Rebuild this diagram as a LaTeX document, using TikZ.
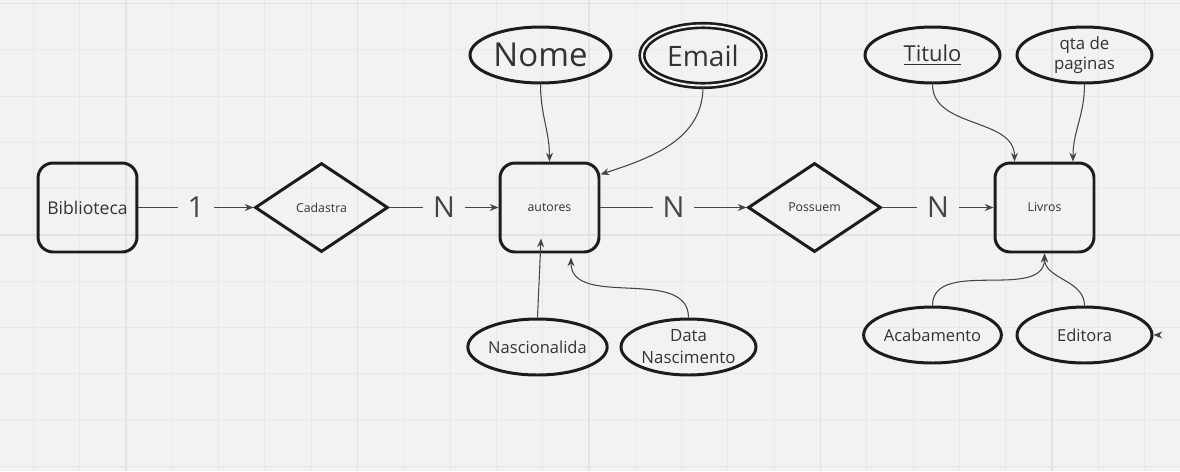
\documentclass[tikz,border=0pt]{standalone}
\usepackage{fontspec}
\setmainfont{Open Sans}
\usepackage{xcolor}
\usetikzlibrary{arrows.meta,shapes.geometric}

\definecolor{bgcol}{HTML}{F2F2F2}
\definecolor{gridfine}{HTML}{E9E9E9}
\definecolor{gridmajor}{HTML}{E2E2E2}
\definecolor{inkcol}{HTML}{1C1C1C}
\definecolor{linecol}{HTML}{454545}
\definecolor{txtcol}{HTML}{333333}

\begin{document}
\begin{tikzpicture}[x=0.02cm, y=-0.02cm,
      entity/.style={rectangle, draw=inkcol, line width=1.7pt, rounded corners=0.3cm,
        minimum width=1.98cm, minimum height=1.78cm, inner sep=0pt, text=txtcol},
      relation/.style={diamond, draw=inkcol, line width=1.7pt, minimum width=2.66cm,
        minimum height=1.78cm, inner sep=0pt, text=txtcol, font=\fontsize{7}{8}\selectfont},
      attr/.style={ellipse, draw=inkcol, line width=1.7pt, minimum width=2.7cm,
        minimum height=1.12cm, inner sep=0pt, text=txtcol, align=center,
        font=\fontsize{9.4}{12.5}\selectfont},
      twoline/.style={attr, inner ysep=-3pt, font=\fontsize{9.6}{12.5}\selectfont},
      multi/.style={attr, double, double distance=1.1pt, line width=1.5pt,
        double=bgcol, minimum width=2.44cm, minimum height=1.2cm},
      conn/.style={->, draw=linecol, line width=0.6pt},
      card/.style={fill=bgcol, inner xsep=5.5pt, text=linecol, font=\fontsize{16.5}{18}\selectfont},
      >={Stealth[length=5pt,width=4pt]}]
    \fill[bgcol] (0,0) rectangle (1180,471);
    \useasboundingbox (0,0) rectangle (1180,471);
    \foreach \gx in {33.4,79.7,...,1180} \draw[gridfine, line width=0.5pt] (\gx,0) -- (\gx,471);
    \foreach \gy in {3.5,49.8,...,471} \draw[gridfine, line width=0.5pt] (0,\gy) -- (1180,\gy);
    \foreach \gx in {126,357.5,589,820.5,1052} \draw[gridmajor, line width=0.8pt] (\gx,0) -- (\gx,471);
    \foreach \gy in {3.5,235,466.5} \draw[gridmajor, line width=0.8pt] (0,\gy) -- (1180,\gy);

    \node[entity, font=\fontsize{10}{12}\selectfont] (biblioteca) at (87.5,207.5) {Biblioteca};
    \node[relation] (cadastra) at (321.5,207.5) {Cadastra};
    \node[entity, font=\fontsize{7}{8}\selectfont] (autores) at (549.5,207.5) {autores};
    \node[relation] (possuem) at (814.5,207.5) {Possuem};
    \node[entity, font=\fontsize{7}{8}\selectfont] (livros) at (1044.5,207.5) {Livros};

    \node[attr, font=\fontsize{18.8}{20}\selectfont, minimum width=2.82cm] (nome) at (540.5,55) {Nome};
    \node[multi, font=\fontsize{16}{18}\selectfont] (email) at (703,55.5) {Email};
    \node[attr, font=\fontsize{12.5}{14}\selectfont] (titulo) at (932.5,55) {\underline{Titulo}};
    \node[twoline] (qtapag) at (1084.5,55) {qta de\\[-1.5pt]paginas};
    \node[attr] (nasc) at (537.5,347) {Nascionalida};
    \node[twoline] (datanasc) at (688.5,347) {Data\\Nascimento};
    \node[attr] (acab) at (932.5,335) {Acabamento};
    \node[attr] (editora) at (1084.5,335) {Editora};
    \coordinate (loose) at (1160,335);

    \draw[conn] (biblioteca) -- node[card]{1} (cadastra);
    \draw[conn] (cadastra) -- node[card]{N} (autores);
    \draw[conn] (autores) -- node[card]{N} (possuem);
    \draw[conn] (possuem) -- node[card]{N} (livros);

    \draw[conn] (nome.south) to[out=-90, in=90] (autores.north);
    \draw[conn] (email.south) to[out=-90, in=18] (autores.33);
    \draw[conn] (nasc.north) -- ([xshift=-0.17cm, yshift=0.3cm]autores.south);
    \draw[conn] (datanasc.north) to[out=90, in=-90] ([xshift=0.43cm, yshift=-0.08cm]autores.south);
    \draw[conn] (titulo.south) to[out=-90, in=90] ([xshift=-0.6cm]livros.north);
    \draw[conn] (qtapag.south) to[out=-90, in=90] ([xshift=0.57cm]livros.north);
    \draw[conn] (acab.north) to[out=90, in=-90] (livros.south);
    \draw[conn] (editora.north) to[out=90, in=-90] (livros.south);
    \draw[conn] (loose) -- (editora.east);
  \end{tikzpicture}
\end{document}
